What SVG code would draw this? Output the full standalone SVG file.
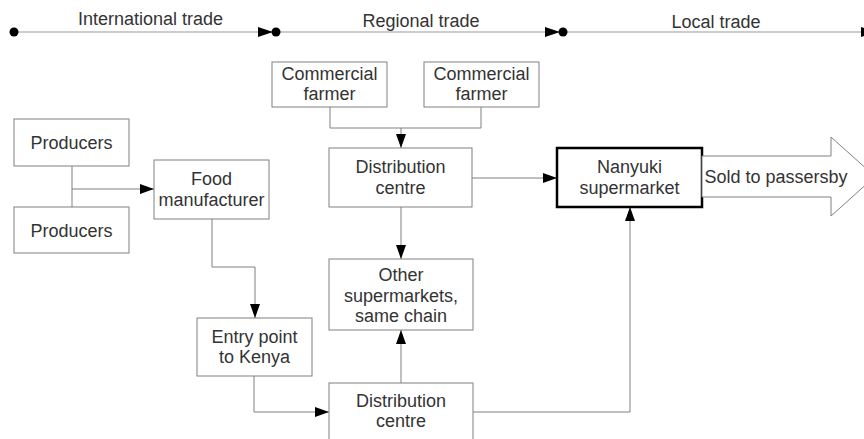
<svg xmlns="http://www.w3.org/2000/svg" width="864" height="439" viewBox="0 0 864 439">
<defs>
<marker id="ah" markerUnits="userSpaceOnUse" markerWidth="14" markerHeight="10" refX="14" refY="5" orient="auto">
<path d="M0,0 L14,5 L0,10 Z" fill="#000"/>
</marker>
<style>
.box{fill:#fff;stroke:#808080;stroke-width:1}
.bold{fill:#fff;stroke:#000;stroke-width:2.5}
.t{font-family:"Liberation Sans",Arial,sans-serif;font-size:18px;fill:#333;text-anchor:middle}
.c{fill:none;stroke:#808080;stroke-width:1}
.tl{fill:none;stroke:#999;stroke-width:1.2}
</style>
</defs>
<rect width="864" height="439" fill="#fff"/>
<g id="timeline">
<line class="tl" x1="14" y1="32" x2="862" y2="32"/>
<circle cx="14" cy="32" r="4.5" fill="#000"/>
<path d="M258,27 L273,32 L258,37 Z" fill="#000"/>
<circle cx="276" cy="32" r="4.5" fill="#000"/>
<path d="M545,27 L560,32 L545,37 Z" fill="#000"/>
<circle cx="563" cy="32" r="4.5" fill="#000"/>
<path d="M861,27 L876,32 L861,37 Z" fill="#000"/>
<text class="t" x="150.5" y="25">International trade</text>
<text class="t" x="421" y="27">Regional trade</text>
<text class="t" x="716" y="28">Local trade</text>
</g>
<g id="connectors">
<path class="c" d="M72,166 V207"/>
<path class="c" d="M72,189 H154" marker-end="url(#ah)"/>
<path class="c" d="M212,219 V267 H255 V318" marker-end="url(#ah)"/>
<path class="c" d="M254,376 V412 H329" marker-end="url(#ah)"/>
<path class="c" d="M330,107 V128 H481 V107"/>
<path class="c" d="M401,128 V148" marker-end="url(#ah)"/>
<path class="c" d="M401,207 V259" marker-end="url(#ah)"/>
<path class="c" d="M401,383 V330" marker-end="url(#ah)"/>
<path class="c" d="M472,178 H557" marker-end="url(#ah)"/>
<path class="c" d="M473,412 H630 V207" marker-end="url(#ah)"/>
</g>
<g id="producers1">
<rect class="box" x="14" y="119" width="115" height="47"/>
<text class="t" x="71.5" y="149">Producers</text>
</g>
<g id="producers2">
<rect class="box" x="14" y="207" width="115" height="46"/>
<text class="t" x="71.5" y="237">Producers</text>
</g>
<g id="food-manufacturer">
<rect class="box" x="154" y="160" width="115" height="59"/>
<text class="t" x="211.5" y="185">Food</text>
<text class="t" x="211.5" y="206">manufacturer</text>
</g>
<g id="commercial-farmer-1">
<rect class="box" x="272" y="62" width="115" height="45"/>
<text class="t" x="329.5" y="80">Commercial</text>
<text class="t" x="329.5" y="100">farmer</text>
</g>
<g id="commercial-farmer-2">
<rect class="box" x="424" y="62" width="115" height="45"/>
<text class="t" x="481.5" y="80">Commercial</text>
<text class="t" x="481.5" y="100">farmer</text>
</g>
<g id="distribution-centre-1">
<rect class="box" x="329" y="148" width="143" height="59"/>
<text class="t" x="400.5" y="173">Distribution</text>
<text class="t" x="400.5" y="194">centre</text>
</g>
<g id="other-supermarkets">
<rect class="box" x="329" y="259" width="144" height="71"/>
<text class="t" x="401" y="281">Other</text>
<text class="t" x="401" y="302">supermarkets,</text>
<text class="t" x="401" y="322">same chain</text>
</g>
<g id="entry-point">
<rect class="box" x="197" y="318" width="115" height="58"/>
<text class="t" x="254.5" y="343">Entry point</text>
<text class="t" x="254.5" y="363">to Kenya</text>
</g>
<g id="distribution-centre-2">
<rect class="box" x="329" y="383" width="144" height="70"/>
<text class="t" x="401" y="407">Distribution</text>
<text class="t" x="401" y="427">centre</text>
</g>
<g id="nanyuki-supermarket">
<rect class="bold" x="557" y="148" width="145" height="59"/>
<text class="t" x="629.5" y="173">Nanyuki</text>
<text class="t" x="629.5" y="194">supermarket</text>
</g>
<g id="sold-to-passersby">
<polygon class="box" points="702,156 831,156 831,137 875,176.5 831,216 831,197 702,197"/>
<text class="t" x="776" y="183">Sold to passersby</text>
</g>
</svg>
